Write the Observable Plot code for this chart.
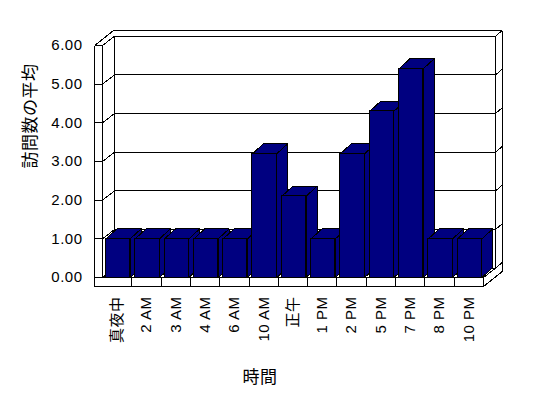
<!DOCTYPE html>
<html>
<head>
<meta charset="utf-8">
<script src="https://cdn.jsdelivr.net/npm/d3@7"></script>
<script src="https://cdn.jsdelivr.net/npm/@observablehq/plot@0.6"></script>
<style>
  html, body { margin: 0; padding: 0; background: white; }
</style>
</head>
<body>
<div id="chart"></div>
<script>
// ---- data ----
const hours = ["真夜中","2 AM","3 AM","4 AM","6 AM","10 AM","正午","1 PM","2 PM","5 PM","7 PM","8 PM","10 PM"];
const visits = [1, 1, 1, 1, 1, 3.2, 2.1, 1, 3.2, 4.3, 5.4, 1, 1];
const yTicks = [0, 1, 2, 3, 4, 5, 6];
const yTitle = "訪問数の平均";
const xTitle = "時間";

// ---- layout ----
const W = 548, H = 398, mL = 102, mR = 65, mT = 45, mB = 121;
const n = hours.length, yMax = 6;
const kx = (W - mL - mR) / n, ky = (H - mT - mB) / yMax;
const D = {x: 12 / kx, y: 9.3 / ky};      // wall depth
const Wt = {x: 6.5 / kx, y: 5.5 / ky};    // back wall thickness
const T = 7.7 / kx;                        // left wall thickness
const F = 9 / ky;                          // floor thickness
const A = 3.4 / kx, BW = 24.3 / kx;        // bar offset and width
const B = {x: 11 / kx, y: 10 / ky};        // bar depth

// ---- frame segments ----
const segs = [];
const seg = (x1, y1, x2, y2) => segs.push({x1, y1, x2, y2});
seg(-T, yMax, -T, -F);
seg(0, yMax, 0, 0);
seg(-T, yMax, 0, yMax);
for (const v of yTicks) {
  seg(-T, v, 0, v);
  seg(0, v, D.x, v + D.y);
  seg(D.x, v + D.y, n + D.x, v + D.y);
  seg(n + D.x, v + D.y, n + D.x + Wt.x, v + D.y + Wt.y);
}
seg(D.x, D.y, D.x, yMax + D.y);
seg(n + D.x, D.y, n + D.x, yMax + D.y);
seg(n + D.x + Wt.x, yMax + D.y + Wt.y, n + D.x + Wt.x, -F + D.y + Wt.y);
seg(-T, yMax, -T + D.x + Wt.x, yMax + D.y + Wt.y);
seg(-T + D.x + Wt.x, yMax + D.y + Wt.y, n + D.x + Wt.x, yMax + D.y + Wt.y);
seg(0, 0, n, 0);
seg(-T, -F, n, -F);
for (let i = 1; i <= n; i++) seg(i, 0, i, -F);
seg(n, 0, n + D.x, D.y);
seg(n, -F, n + D.x + Wt.x, -F + D.y + Wt.y);

// ---- bars ----
const bars = hours.map((h, i) => ({h, i, v: visits[i], x1: i + A, x2: i + A + BW}));
const sides = [], tops = [];
bars.forEach(b => {
  [[b.x2, 0], [b.x2 + B.x, B.y], [b.x2 + B.x, b.v + B.y], [b.x2, b.v], [b.x2, 0]]
    .forEach(([x, y]) => sides.push({id: b.i, x, y}));
  [[b.x1, b.v], [b.x2, b.v], [b.x2 + B.x, b.v + B.y], [b.x1 + B.x, b.v + B.y], [b.x1, b.v]]
    .forEach(([x, y]) => tops.push({id: b.i, x, y}));
});

const navy = "#000080";

const chart = Plot.plot({
  width: W, height: H,
  marginLeft: mL, marginRight: mR, marginTop: mT, marginBottom: mB,
  style: "font-family: 'Liberation Sans', 'Noto Sans CJK JP', sans-serif; font-size: 15px; letter-spacing: 0.5px; background: white; shape-rendering: crispEdges; color: black;",
  x: {type: "linear", domain: [0, n], ticks: hours.map((_, i) => i + 0.5),
      tickFormat: d => hours[Math.floor(d)], tickRotate: -90, tickSize: 0, tickPadding: 19, label: null},
  y: {type: "linear", domain: [0, yMax], ticks: yTicks, tickFormat: d3.format(".2f"),
      tickSize: 0, tickPadding: 20, label: null},
  marks: [
    Plot.link(segs, {x1: "x1", y1: "y1", x2: "x2", y2: "y2", stroke: "black", strokeWidth: 1}),
    Plot.line(sides, {x: "x", y: "y", z: "id", fill: navy, stroke: "black", strokeWidth: 1, curve: "linear"}),
    Plot.line(tops, {x: "x", y: "y", z: "id", fill: navy, stroke: "black", strokeWidth: 1, curve: "linear"}),
    Plot.rect(bars, {x1: "x1", x2: "x2", y1: 0, y2: "v", fill: navy, stroke: "black", strokeWidth: 1}),
    Plot.text([yTitle], {frameAnchor: "left", rotate: -90, dx: -72, dy: 7, lineAnchor: "middle", fontSize: 17, fill: "black"}),
    Plot.text([xTitle], {frameAnchor: "bottom", dx: -33, dy: 100, lineAnchor: "middle", fontSize: 17, fill: "black"})
  ]
});
document.getElementById("chart").appendChild(chart);
</script>
</body>
</html>
